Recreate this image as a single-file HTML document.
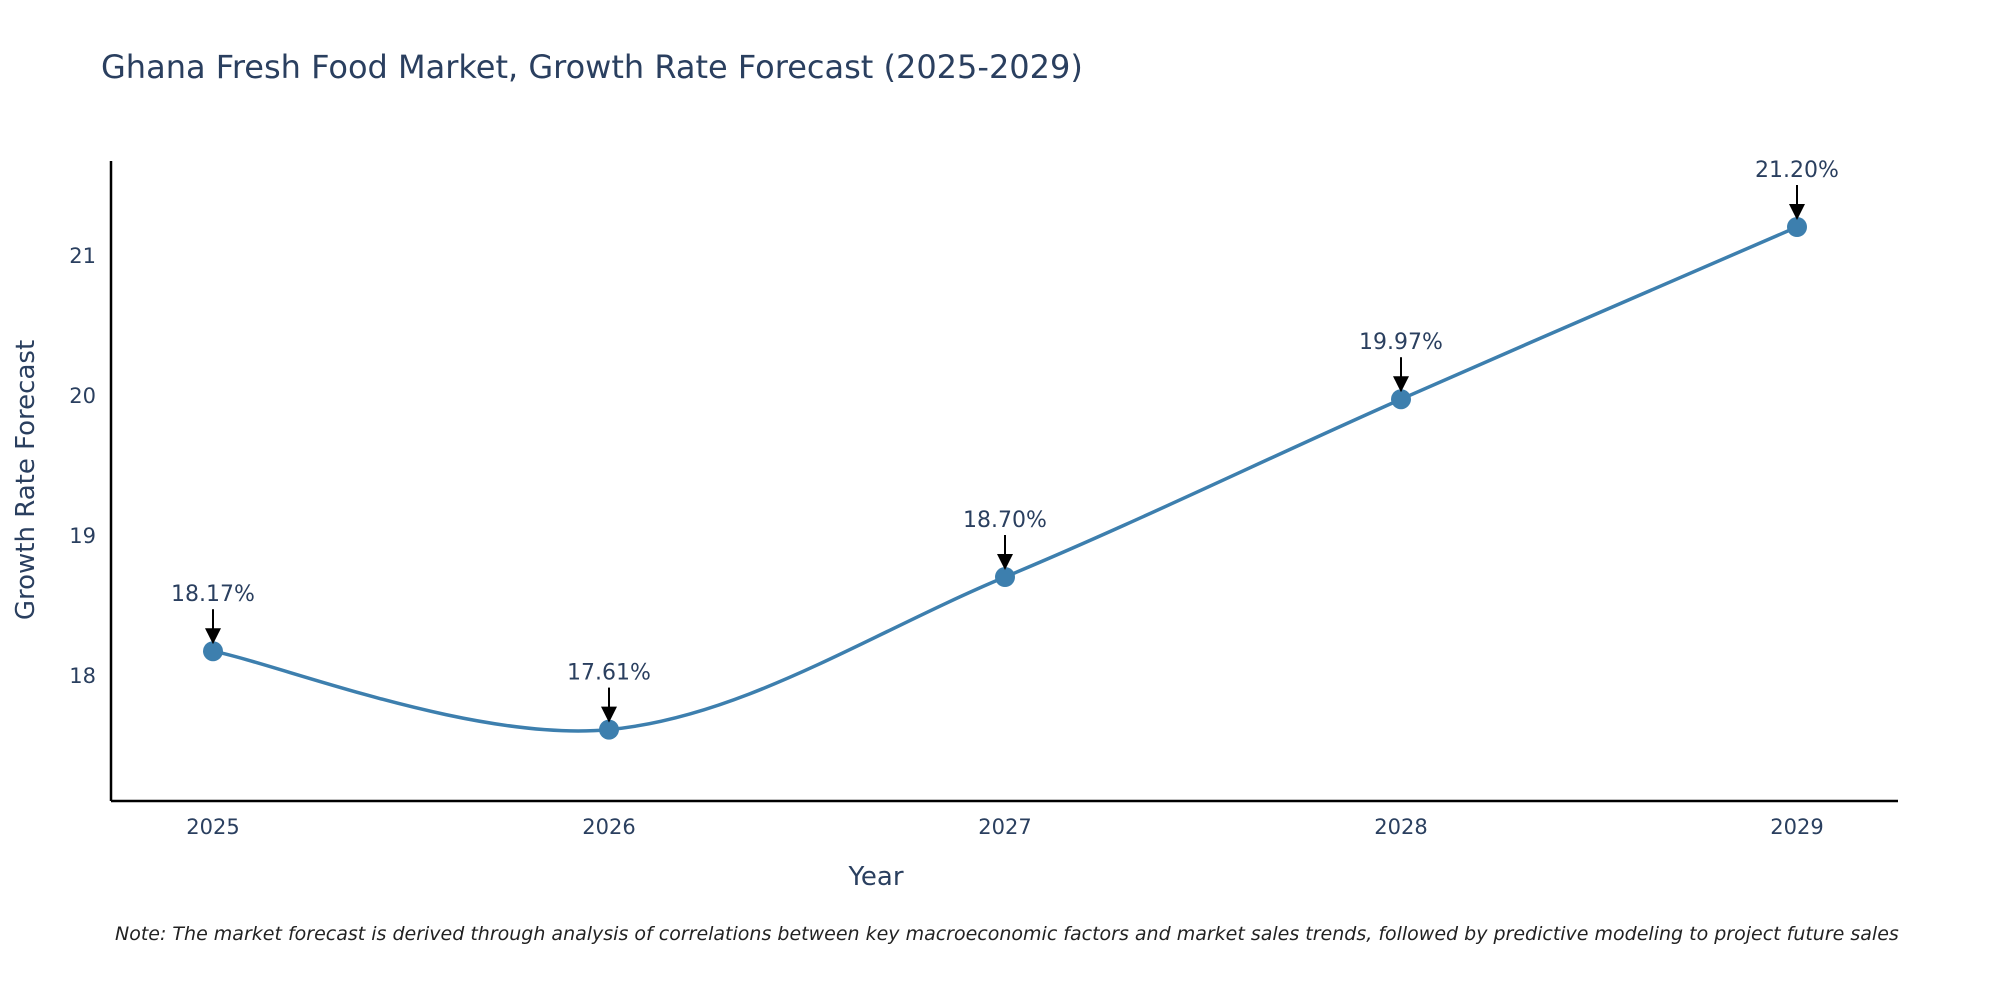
<!DOCTYPE html>
<html><head><meta charset="utf-8"><style>
html,body{margin:0;padding:0;background:#fff;}
svg{display:block;font-family:"DejaVu Sans","Liberation Sans",sans-serif;}
</style></head><body>
<svg id="chart" width="2000" height="1000" viewBox="0 0 2000 1000">
<text x="101" y="78" font-size="32" fill="#2a3f5f">Ghana Fresh Food Market, Growth Rate Forecast (2025-2029)</text>
<g id="axes"></g>
<g id="series"></g>
<text x="876" y="885" font-size="26" fill="#2a3f5f" text-anchor="middle">Year</text>
<text transform="translate(34,480) rotate(-90)" font-size="26" fill="#2a3f5f" text-anchor="middle">Growth Rate Forecast</text>
<text x="115" y="940" font-size="19" font-style="italic" fill="#222">Note: The market forecast is derived through analysis of correlations between key macroeconomic factors and market sales trends, followed by predictive modeling to project future sales</text>
</svg>
<script>
const years = [2025, 2026, 2027, 2028, 2029];
const values = [18.17, 17.61, 18.70, 19.97, 21.20];
const labels = ["18.17%", "17.61%", "18.70%", "19.97%", "21.20%"];
const yTicks = [18, 19, 20, 21];

const NS = "http://www.w3.org/2000/svg";
const xScale = v => 213 + (v - 2025) * 396;
const yScale = v => 675 - (v - 18) * 140;
function mk(tag, attrs, parent) {
  const e = document.createElementNS(NS, tag);
  for (const k in attrs) e.setAttribute(k, attrs[k]);
  parent.appendChild(e);
  return e;
}
const axes = document.getElementById('axes');
const series = document.getElementById('series');

const xl = mk('line', {x1: 111, y1: 801, x2: 1898, y2: 801, stroke: '#000', 'stroke-width': 2.5}, axes);


const yl = mk('line', {x1: 111, y1: 161, x2: 111, y2: 801, stroke: '#000', 'stroke-width': 2.5}, axes);



years.forEach(y => {
  const t = mk('text', {x: xScale(y), y: 834, 'font-size': 21, fill: '#2a3f5f', 'text-anchor': 'middle'}, axes);
  t.textContent = y;
  
  
});
yTicks.forEach(v => {
  const t = mk('text', {x: 96, y: yScale(v) + 8, 'font-size': 21, fill: '#2a3f5f', 'text-anchor': 'end'}, axes);
  t.textContent = v;
  
  
});

const pts = years.map((y, i) => [xScale(y), yScale(values[i])]);
let d = `M${pts[0][0]},${pts[0][1]}`;
const k = 0.17;
for (let i = 0; i < pts.length - 1; i++) {
  const p0 = pts[Math.max(0, i - 1)], p1 = pts[i], p2 = pts[i + 1], p3 = pts[Math.min(pts.length - 1, i + 2)];
  const c1 = [p1[0] + (p2[0] - p0[0]) * k, p1[1] + (p2[1] - p0[1]) * k];
  const c2 = [p2[0] - (p3[0] - p1[0]) * k, p2[1] - (p3[1] - p1[1]) * k];
  d += ` C${c1[0]},${c1[1]} ${c2[0]},${c2[1]} ${p2[0]},${p2[1]}`;
}
const line = mk('path', {d: d, fill: 'none', stroke: '#3d7fae', 'stroke-width': 3.5}, series);



mk('defs', {}, series).innerHTML = '<marker id="ah" markerWidth="16" markerHeight="16" refX="14" refY="8" orient="auto" markerUnits="userSpaceOnUse"><path d="M0,0 L16,8 L0,16 z" fill="#000"/></marker>';

pts.forEach((p, i) => {
  const c = mk('circle', {cx: p[0], cy: p[1], r: 10, fill: '#3d7fae'}, series);
  
  
  const a = mk('line', {x1: p[0], y1: p[1] - 42, x2: p[0], y2: p[1] - 9, stroke: '#000', 'stroke-width': 2, 'marker-end': 'url(#ah)'}, series);
  
  
  const t = mk('text', {x: p[0], y: p[1] - 50, 'font-size': 22, fill: '#2a3f5f', 'text-anchor': 'middle'}, series);
  t.textContent = labels[i];
  
  
});
</script>
</body></html>
